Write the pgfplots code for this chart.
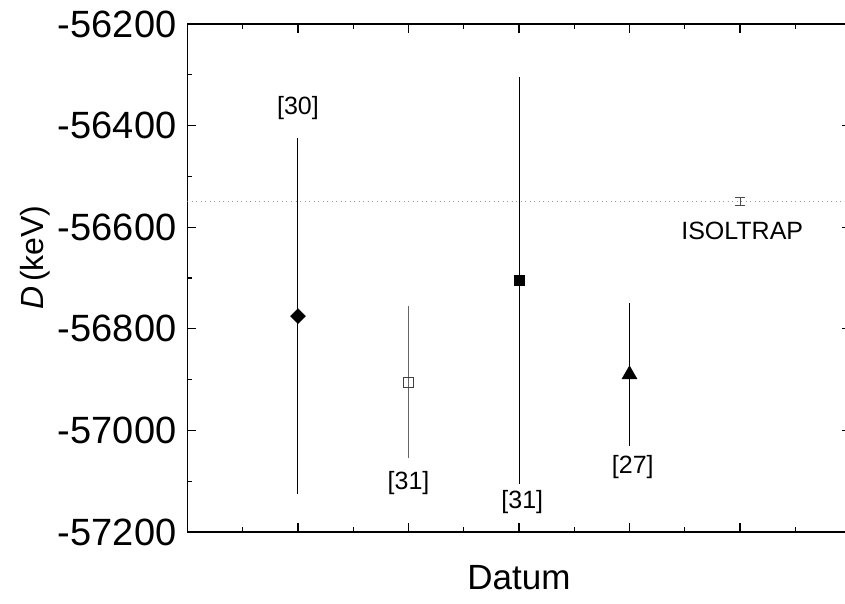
\documentclass[border=0pt]{standalone}
\usepackage{fontspec}
\setmainfont{Liberation Sans}
\usepackage{pgfplots}
\pgfplotsset{compat=1.18}
\begin{document}
\begin{tikzpicture}
\begin{axis}[
  at={(0,0)}, anchor=south west,
  scale only axis, width=663pt, height=508pt,
  xmin=0, xmax=6, ymin=-57200, ymax=-56200,
  scaled y ticks=false, scaled x ticks=false,
  xtick={0,1,2,3,4,5,6}, xticklabels={}, minor x tick num=1,
  ytick={-57200,-57000,-56800,-56600,-56400,-56200},
  yticklabels={-57200,-57000,-56800,-56600,-56400,-56200},
  minor y tick num=1,
  tick align=inside,
  major tick length=9pt, minor tick length=5pt,
  every tick/.style={black, line width=1.3pt},
  axis line style={line width=1.6pt},
  tick label style={font=\fontsize{38}{38}\selectfont},
  yticklabel style={inner sep=0pt, xshift=-11pt},
  xlabel={Datum},
  ylabel={\textit{D}\hspace{0.15em}(keV)},
  xlabel style={font=\fontsize{35}{35}\selectfont, at={(axis description cs:0.5,-0.0906)}, anchor=center},
  ylabel style={font=\fontsize{32}{32}\selectfont, at={(axis description cs:-0.2293,0.54)}, anchor=center},
]
% reference line (ISOLTRAP value)
\addplot[color=gray!80, line width=0.9pt, dash pattern=on 1pt off 3.5pt]
  coordinates {(0,-56550) (6,-56550)};

% [30]
\addplot[only marks, mark=square*, mark size=5.3pt,
  mark options={rotate=45, fill=black, draw=black},
  error bars/.cd, y dir=both, y explicit, error mark=none,
  error bar style={line width=1pt, black}]
  coordinates {(1,-56775) +- (0,350)};

% [31] open
\addplot[only marks, mark=square, mark size=5pt,
  mark options={fill=white, draw=black!75, line width=0.9pt},
  error bars/.cd, y dir=both, y explicit, error mark=none,
  error bar style={line width=1pt, black!60}]
  coordinates {(2,-56905) +- (0,150)};

% [31] filled
\addplot[only marks, mark=square*, mark size=5pt,
  mark options={fill=black, draw=black},
  error bars/.cd, y dir=both, y explicit, error mark=none,
  error bar style={line width=1pt, black}]
  coordinates {(3,-56705) +- (0,400)};

% [27]
\addplot[only marks, mark=triangle*, mark size=8.7pt,
  mark options={fill=black, draw=black},
  error bars/.cd, y dir=both, y explicit, error mark=none,
  error bar style={line width=1pt, black}]
  coordinates {(4,-56890) +- (0,140)};

% ISOLTRAP
\addplot[black!70, mark=none,
  error bars/.cd, y dir=both, y explicit, error mark=-,
  error mark options={rotate=90, mark size=5pt, line width=0.9pt, black!70},
  error bar style={line width=0.9pt, black!70}]
  coordinates {(5,-56550) +- (0,8)};

\node[font=\fontsize{25}{25}\selectfont] at (axis cs:1,-56365) {[30]};
\node[font=\fontsize{25}{25}\selectfont] at (axis cs:2.0,-57104) {[31]};
\node[font=\fontsize{25}{25}\selectfont] at (axis cs:3.03,-57141) {[31]};
\node[font=\fontsize{25}{25}\selectfont] at (axis cs:4.03,-57072) {[27]};
\node[font=\fontsize{25}{25}\selectfont] at (axis cs:5.02,-56607) {ISOLTRAP};
\end{axis}
\pgfresetboundingbox
\useasboundingbox (-187.5pt,-71pt) rectangle (657.5pt,532pt);
\end{tikzpicture}
\end{document}
